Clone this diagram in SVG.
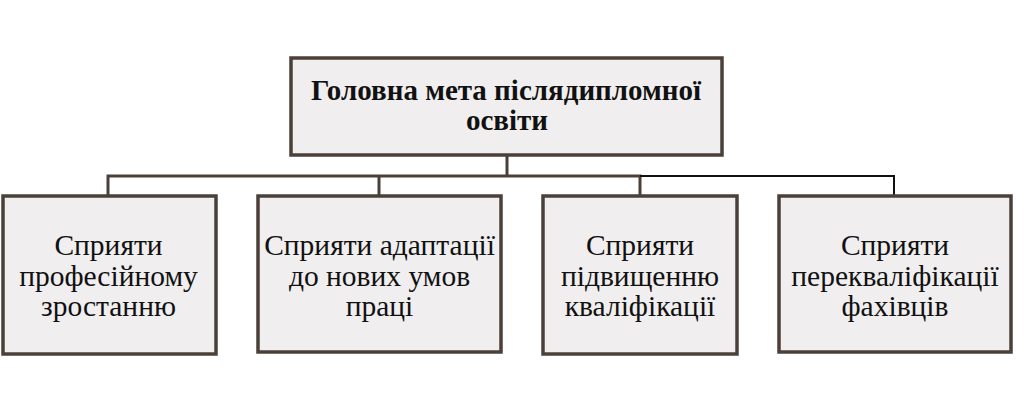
<svg xmlns="http://www.w3.org/2000/svg" width="1024" height="413" viewBox="0 0 1024 413">
<defs>
<style>
.box{fill:#f0eeef;stroke:#4b4039;stroke-width:3.5}
.c{fill:none;stroke:#4b4039;stroke-width:3}
.k{fill:none;stroke:#111;stroke-width:2}
</style>
</defs>
<rect width="1024" height="413" fill="#ffffff"/>
<g id="connectors">
<path class="c" d="M507 156 V176 M108 195 V176 H640 V195 M379 176 V195"/>
<path class="k" d="M640 176 H894 V195"/>
</g>
<g id="root">
<rect class="box" x="291" y="58" width="431" height="97"/>
<text x="506" y="100" font-family="Liberation Serif, serif" font-size="29" font-weight="bold" text-anchor="middle" fill="#111">Головна мета післядипломної</text>
<text x="507" y="130" font-family="Liberation Serif, serif" font-size="29" font-weight="bold" text-anchor="middle" fill="#111">освіти</text>
</g>
<g id="n1">
<rect class="box" x="3" y="196" width="213" height="158"/>
<text x="108.5" y="255" font-family="Liberation Serif, serif" font-size="29.5" text-anchor="middle" fill="#111">Сприяти</text>
<text x="108.5" y="285.5" font-family="Liberation Serif, serif" font-size="29.5" text-anchor="middle" fill="#111">професійному</text>
<text x="108.5" y="316" font-family="Liberation Serif, serif" font-size="29.5" text-anchor="middle" fill="#111">зростанню</text>
</g>
<g id="n2">
<rect class="box" x="258" y="196" width="243" height="156"/>
<text x="379.5" y="255" font-family="Liberation Serif, serif" font-size="29.5" text-anchor="middle" fill="#111">Сприяти адаптації</text>
<text x="379.5" y="285.5" font-family="Liberation Serif, serif" font-size="29.5" text-anchor="middle" fill="#111">до нових умов</text>
<text x="379.5" y="316" font-family="Liberation Serif, serif" font-size="29.5" text-anchor="middle" fill="#111">праці</text>
</g>
<g id="n3">
<rect class="box" x="543" y="196" width="194" height="158"/>
<text x="640" y="255" font-family="Liberation Serif, serif" font-size="29.5" text-anchor="middle" fill="#111">Сприяти</text>
<text x="640" y="285.5" font-family="Liberation Serif, serif" font-size="29.5" text-anchor="middle" fill="#111">підвищенню</text>
<text x="640" y="316" font-family="Liberation Serif, serif" font-size="29.5" text-anchor="middle" fill="#111">кваліфікації</text>
</g>
<g id="n4">
<rect class="box" x="779" y="196" width="232" height="156"/>
<text x="895" y="255" font-family="Liberation Serif, serif" font-size="29.5" text-anchor="middle" fill="#111">Сприяти</text>
<text x="895" y="285.5" font-family="Liberation Serif, serif" font-size="29.5" text-anchor="middle" fill="#111">перекваліфікації</text>
<text x="895" y="316" font-family="Liberation Serif, serif" font-size="29.5" text-anchor="middle" fill="#111">фахівців</text>
</g>
</svg>
